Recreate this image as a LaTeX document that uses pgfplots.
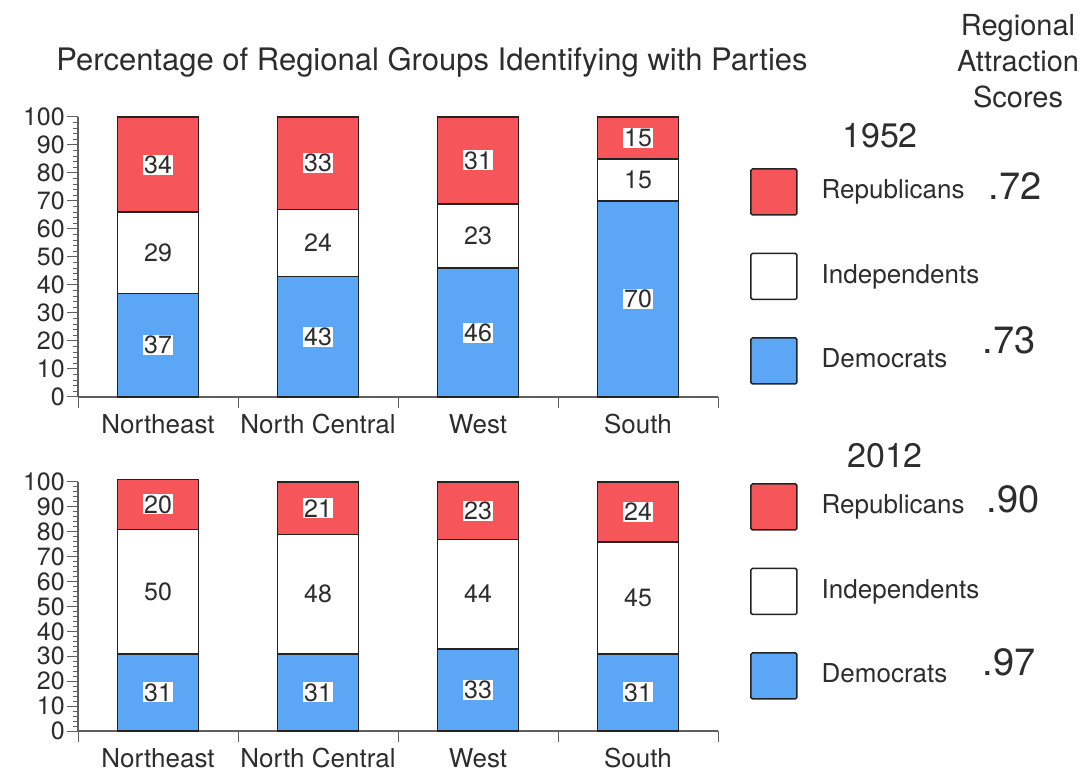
\documentclass[border=0pt]{standalone}
\usepackage{pgfplots}
\pgfplotsset{compat=1.18}
\usepackage{fontspec}
\setmainfont{TeX Gyre Heros}
\definecolor{repred}{RGB}{246,86,90}
\definecolor{demblue}{RGB}{92,166,246}
\definecolor{axisgray}{RGB}{95,95,95}
\definecolor{txt}{RGB}{45,45,45}
\definecolor{barline}{RGB}{35,35,35}
\pgfplotsset{
  panel/.style={
    scale only axis, width=640bp,
    ybar stacked, bar width=81bp,
    xmin=-0.5, xmax=3.5, ymin=0, ymax=100,
    clip=false,
    axis x line=bottom, axis y line=left,
    axis line style={-, draw=axisgray, line width=1.3bp},
    xtick={-0.5,0.5,1.5,2.5,3.5}, x tick label as interval,
    xticklabels={Northeast,North Central,West,South},
    ytick={0,10,...,100}, minor y tick num=4,
    tick align=outside, major tick length=11bp, minor tick length=5bp,
    every tick/.style={draw=axisgray, line width=1bp},
    /pgf/number format/assume math mode=true,
    yticklabel style={font=\fontsize{25bp}{25bp}\selectfont, text=txt, inner sep=2bp},
    xticklabel style={font=\fontsize{26bp}{26bp}\selectfont, text=txt, yshift=-3bp},
    nodes near coords,
    every node near coord/.append style={anchor=center,
      fill=white, inner sep=1bp, text=txt, font=\fontsize{25bp}{25bp}\selectfont},
    reverse legend,
    legend image code/.code={\draw[#1, rounded corners=1.5bp] (0bp,-25bp) rectangle (46bp,21bp);},
    legend style={draw=none, fill=none, inner sep=0pt, anchor=north west,
      column sep=22bp, row sep=37bp, font=\fontsize{26bp}{26bp}\selectfont, text=txt,
      cells={anchor=west}},
  },
  dem/.style={fill=demblue, draw=barline, line width=1.5bp},
  ind/.style={fill=white, draw=barline, line width=1.5bp},
  rep/.style={fill=repred, draw=barline, line width=1.5bp},
}
\begin{document}
\begin{tikzpicture}
\path[use as bounding box] (0,0) rectangle (1088bp,774bp);
% 1952
\begin{axis}[panel, at={(78bp,377bp)}, anchor=south west, height=280bp,
  legend style={at={(rel axis cs:1.05,0.818)}}]
\addplot[dem] coordinates {(0,37) (1,43) (2,46) (3,70)};
\addplot[ind] coordinates {(0,29) (1,24) (2,23) (3,15)};
\addplot[rep] coordinates {(0,34) (1,33) (2,31) (3,15)};
\legend{Democrats,Independents,Republicans}
\end{axis}
% 2012
\begin{axis}[panel, at={(78bp,43bp)}, anchor=south west, height=249bp,
  legend style={at={(rel axis cs:1.05,0.996)}}]
\addplot[dem] coordinates {(0,31) (1,31) (2,33) (3,31)};
\addplot[ind] coordinates {(0,50) (1,48) (2,44) (3,45)};
\addplot[rep] coordinates {(0,20) (1,21) (2,23) (3,24)};
\legend{Democrats,Independents,Republicans}
\end{axis}
\node[text=txt, font=\fontsize{31bp}{31bp}\selectfont] at (432bp,712bp) {Percentage of Regional Groups Identifying with Parties};
\node[text=txt, align=center, font=\fontsize{29bp}{36bp}\selectfont] at (1018bp,713bp) {Regional\\Attraction\\Scores};
\node[text=txt, font=\fontsize{34bp}{34bp}\selectfont] at (880bp,638bp) {1952};
\node[text=txt, font=\fontsize{34bp}{34bp}\selectfont] at (885bp,318bp) {2012};
\node[text=txt, font=\fontsize{38bp}{38bp}\selectfont] at (1015bp,588bp) {.72};
\node[text=txt, font=\fontsize{38bp}{38bp}\selectfont] at (1009bp,434bp) {.73};
\node[text=txt, font=\fontsize{38bp}{38bp}\selectfont] at (1013bp,275bp) {.90};
\node[text=txt, font=\fontsize{38bp}{38bp}\selectfont] at (1009bp,112bp) {.97};
\end{tikzpicture}
\end{document}
